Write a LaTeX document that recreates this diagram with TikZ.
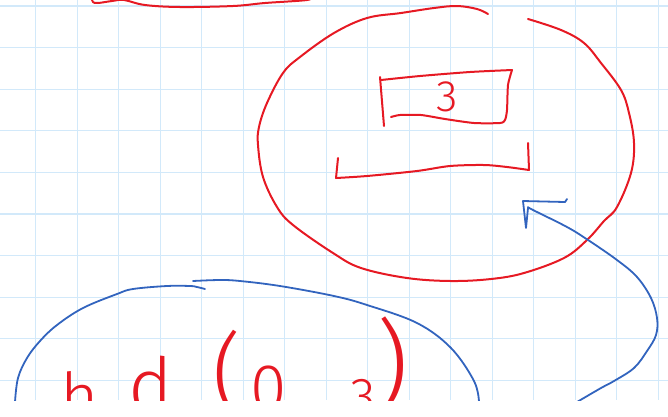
\documentclass[tikz,border=0pt]{standalone}
\usepackage{fontspec}
\newfontfamily\thinfont{Fira Sans Light}
\definecolor{inkred}{RGB}{230,25,35}
\definecolor{inkblue}{RGB}{50,100,190}
\definecolor{gridblue}{RGB}{210,233,250}
\begin{document}
\begin{tikzpicture}[x=1pt,y=-1pt,
    redink/.style={draw=inkred, line width=2pt, line cap=round, line join=round},
    blueink/.style={draw=inkblue, line width=1.8pt, line cap=round, line join=round},
    redtext/.style={text=inkred, inner sep=0pt, font=\thinfont}]
\useasboundingbox (0,0) rectangle (668,416);
\begin{scope}
\clip (0,0) rectangle (668,400);
% grid paper
\foreach \gx in {0,...,15}
    \draw[gridblue, line width=1.2pt] ({35.7+41.5*\gx},0) -- ({35.7+41.5*\gx},400);
\foreach \gy in {0,...,9}
    \draw[gridblue, line width=1.2pt] (0,{6+41.6*\gy}) -- (668,{6+41.6*\gy});

% Red shape cut at the top edge
\draw[redink] plot[smooth, tension=0.6] coordinates {(91,-3) (93,2) (98,3) (112,1) (124,0) (145,5) (180,7) (233,6) (265,3) (307,0) (309,-3)};

% Big red circle (two strokes, gap at the top)
\draw[redink] plot[smooth, tension=0.6] coordinates {(488,14) (477,9) (457,6) (434,8) (401,13) (367,18) (334,33) (300,57) (283,73) (267,103) (259,127) (258,145) (263,177) (277,207) (293,225) (333,253) (361,268) (407,278) (451,281) (491,279) (524,273) (564,258) (587,240) (604,221) (617,207) (631,173) (634,143) (629,113) (621,90) (601,63) (584,43) (561,30) (528,19)};

% Box with 3
\draw[redink] (380,77) -- (384,126);
\draw[redink] plot[smooth, tension=0.4] coordinates {(381,80) (420,76) (470,72) (512,70)};
\draw[redink] plot[smooth, tension=0.4] coordinates {(512,70) (508,85) (507,110) (505,120) (500,123) (474,123) (445,119) (421,115) (400,115) (391,117)};
\node[redtext] (three) at (447,97) {\fontsize{44}{44}\selectfont 3};

% Bracket under the box
\draw[redink] plot[smooth, tension=0.4] coordinates {(338,158) (337,168) (336,178)};
\draw[redink] plot[smooth, tension=0.5] coordinates {(336,178) (367,176) (417,171) (450,166) (484,165) (507,167) (529,170)};
\draw[redink] (529,170) -- (528,143);

% Blue arrow into the circle
\draw[blueink] plot[smooth, tension=0.6] coordinates {(577,402) (601,388) (614,381) (634,368) (647,351) (656,335) (657,318) (651,298) (637,277) (617,260) (588,240) (567,227) (533,210) (528,207)};
\draw[blueink] (567,199) -- (565,202) -- (523,201) -- (526,228) -- (528,208);

% Blue outline at the bottom
\draw[blueink] plot[smooth, tension=0.6] coordinates {(15,402) (18,378) (27,358) (40,341) (57,325) (83,308) (117,294) (133,289) (167,286) (190,286) (197,287) (205,289)};
\draw[blueink] plot[smooth, tension=0.6] coordinates {(193,281) (220,280) (240,281) (280,286) (334,296) (367,305) (417,323) (451,348) (474,381) (479,402)};

% Red writing cut at the bottom
\node[redtext, anchor=base west] (h) at (60,420) {\fontsize{66}{66}\selectfont h};
\node[redtext, anchor=base west] (d) at (128,412) {\fontsize{76}{76}\selectfont d};
\node[redtext, anchor=base west] (lpar) at (212,405) {\fontsize{90}{90}\selectfont (};
\node[redtext, anchor=base west] (zero) at (250,410) {\fontsize{66}{66}\selectfont 0};
\node[redtext, anchor=base west] (three b) at (350,414) {\fontsize{52}{52}\selectfont 3};
\node[redtext, anchor=base west] (rpar) at (376,400) {\fontsize{100}{100}\selectfont )};
\end{scope}
\end{tikzpicture}
\end{document}
